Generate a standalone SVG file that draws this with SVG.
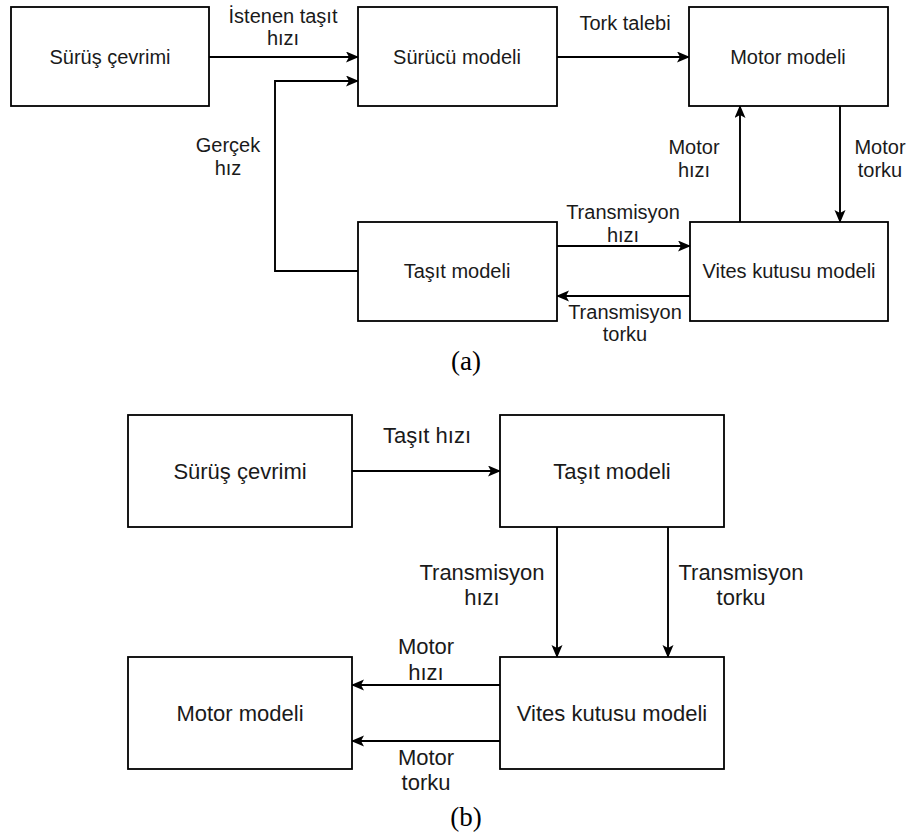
<svg xmlns="http://www.w3.org/2000/svg" width="910" height="834" viewBox="0 0 910 834">
<style>
.box{fill:#fff;stroke:#000;stroke-width:1.8}
.ln{fill:none;stroke:#000;stroke-width:1.9}
.t{font-family:"Liberation Sans",Arial,sans-serif;font-size:20px;fill:#1a1a1a;text-anchor:middle}
.tb{font-family:"Liberation Sans",Arial,sans-serif;font-size:22px;fill:#1a1a1a;text-anchor:middle}
.cap{font-family:"Liberation Serif","Times New Roman",serif;font-size:27px;fill:#000;text-anchor:middle}
</style>
<defs>
<marker id="ah" markerUnits="userSpaceOnUse" markerWidth="13" markerHeight="12" refX="12" refY="5.5" orient="auto">
<path d="M0,0 L13,5.5 L0,11 L3,5.5 z" fill="#000"/>
</marker>
</defs>
<rect width="910" height="834" fill="#fff"/>

<g id="connectors">
<line class="ln" x1="209" y1="57" x2="358" y2="57" marker-end="url(#ah)"/>
<polyline class="ln" points="358,271 275,271 275,81 358,81" marker-end="url(#ah)"/>
<line class="ln" x1="557" y1="57" x2="689" y2="57" marker-end="url(#ah)"/>
<line class="ln" x1="740" y1="222" x2="740" y2="106" marker-end="url(#ah)"/>
<line class="ln" x1="840" y1="106" x2="840" y2="222" marker-end="url(#ah)"/>
<line class="ln" x1="557" y1="246" x2="690" y2="246" marker-end="url(#ah)"/>
<line class="ln" x1="690" y1="296" x2="557" y2="296" marker-end="url(#ah)"/>

<line class="ln" x1="352" y1="471" x2="500" y2="471" marker-end="url(#ah)"/>
<line class="ln" x1="557" y1="527" x2="557" y2="657" marker-end="url(#ah)"/>
<line class="ln" x1="668" y1="527" x2="668" y2="657" marker-end="url(#ah)"/>
<line class="ln" x1="500" y1="685" x2="352" y2="685" marker-end="url(#ah)"/>
<line class="ln" x1="500" y1="741" x2="352" y2="741" marker-end="url(#ah)"/>
</g>

<g id="labels">
<text class="t" x="283" y="23">İstenen taşıt</text>
<text class="t" x="283" y="45">hızı</text>
<text class="t" x="625" y="30">Tork talebi</text>
<text class="t" x="228" y="152">Gerçek</text>
<text class="t" x="228" y="175">hız</text>
<text class="t" x="694" y="154">Motor</text>
<text class="t" x="694" y="177">hızı</text>
<text class="t" x="880" y="154">Motor</text>
<text class="t" x="880" y="177">torku</text>
<text class="t" x="623" y="219">Transmisyon</text>
<text class="t" x="623" y="242">hızı</text>
<text class="t" x="625" y="319">Transmisyon</text>
<text class="t" x="625" y="341">torku</text>
<text class="cap" x="466" y="370">(a)</text>

<text class="tb" x="427" y="443">Taşıt hızı</text>
<text class="tb" x="482" y="580">Transmisyon</text>
<text class="tb" x="482" y="605">hızı</text>
<text class="tb" x="741" y="580">Transmisyon</text>
<text class="tb" x="741" y="605">torku</text>
<text class="tb" x="426" y="654">Motor</text>
<text class="tb" x="426" y="680">hızı</text>
<text class="tb" x="426" y="765">Motor</text>
<text class="tb" x="426" y="790">torku</text>
<text class="cap" x="466" y="826">(b)</text>
</g>

<g id="a-surus-cevrimi"><rect class="box" x="11" y="7" width="198" height="99"/><text class="t" x="110" y="64">Sürüş çevrimi</text></g>
<g id="a-surucu-modeli"><rect class="box" x="358" y="7" width="199" height="99"/><text class="t" x="457" y="64">Sürücü modeli</text></g>
<g id="a-motor-modeli"><rect class="box" x="689" y="7" width="199" height="99"/><text class="t" x="788" y="64">Motor modeli</text></g>
<g id="a-tasit-modeli"><rect class="box" x="358" y="222" width="199" height="99"/><text class="t" x="457" y="278">Taşıt modeli</text></g>
<g id="a-vites-kutusu-modeli"><rect class="box" x="690" y="222" width="198" height="99"/><text class="t" x="789" y="278">Vites kutusu modeli</text></g>

<g id="b-surus-cevrimi"><rect class="box" x="128" y="415" width="224" height="112"/><text class="tb" x="240" y="479">Sürüş çevrimi</text></g>
<g id="b-tasit-modeli"><rect class="box" x="500" y="415" width="224" height="112"/><text class="tb" x="612" y="479">Taşıt modeli</text></g>
<g id="b-motor-modeli"><rect class="box" x="128" y="657" width="224" height="112"/><text class="tb" x="240" y="721">Motor modeli</text></g>
<g id="b-vites-kutusu-modeli"><rect class="box" x="500" y="657" width="224" height="112"/><text class="tb" x="612" y="721">Vites kutusu modeli</text></g>
</svg>
